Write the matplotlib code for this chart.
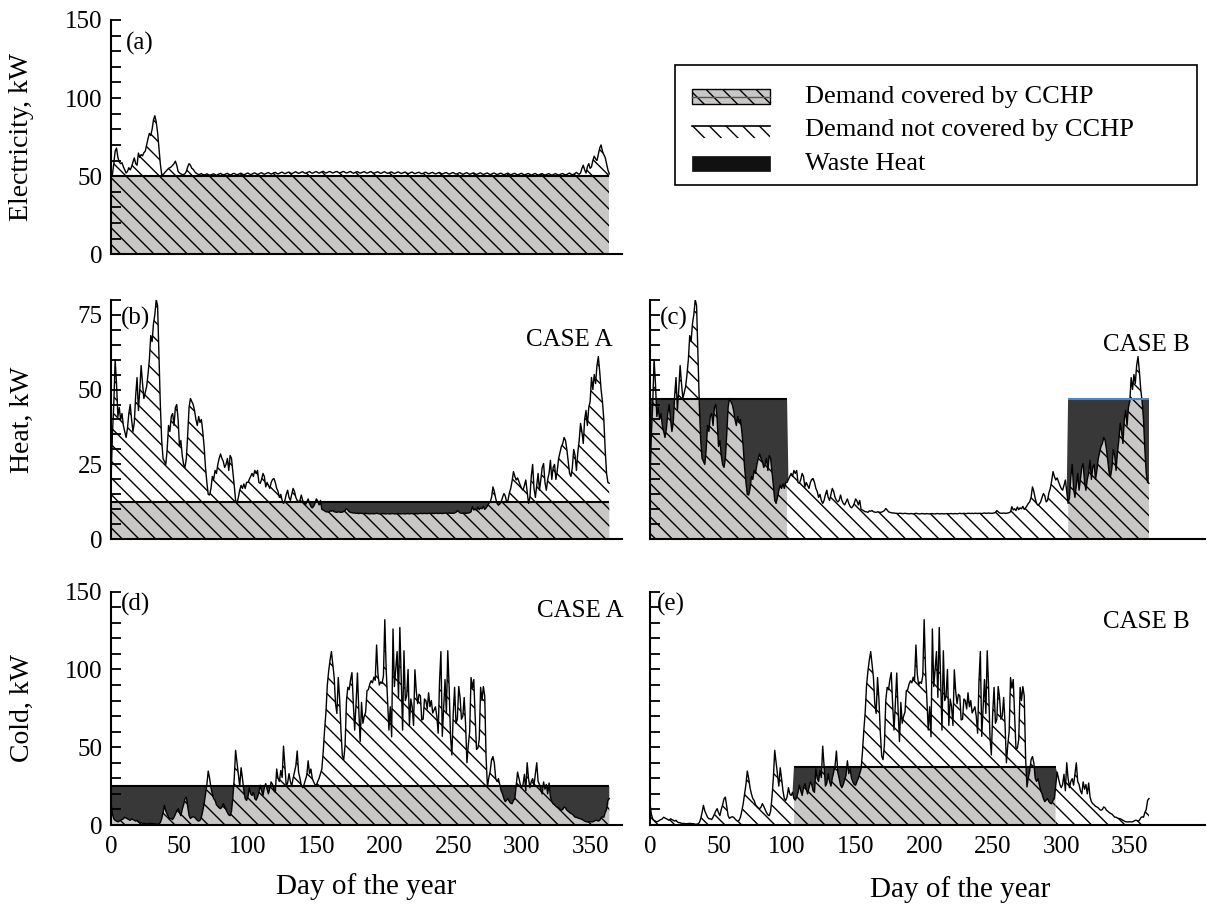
import numpy as np
import matplotlib
matplotlib.use('Agg')
import matplotlib.pyplot as plt
import matplotlib.patches as mpatches
from matplotlib.lines import Line2D

plt.rcParams['font.family'] = 'Liberation Serif'
plt.rcParams['hatch.color'] = 'black'
plt.rcParams['hatch.linewidth'] = 1.0

# daily demand, day 0..364
elec = [
    50, 51, 58, 66, 68, 62, 59, 58, 58.6, 56,
    54, 52, 53, 55.4, 54, 56, 59, 61.7, 58, 57,
    64.8, 62, 63.8, 63, 65, 66, 70, 74, 77.4, 76,
    80, 86, 88.7, 84.7, 78, 68, 58, 51, 51, 52,
    53, 54, 55, 55.4, 56, 57, 58, 59.6, 57, 53,
    52, 51.5, 51, 51, 51.5, 53, 56, 58, 57, 55,
    54.4, 53, 52, 51.5, 51, 51.2, 51.7, 51, 50.8, 51,
    51.5, 51, 50.6, 50.8, 51.2, 51.5, 51, 50.6, 51, 51.4,
    51.8, 51.2, 50.8, 51, 51.5, 51.8, 51.2, 50.9, 51, 51.6,
    51.8, 51.2, 50.8, 51.2, 51.6, 51.9, 51.3, 50.9, 51.2, 51.7,
    52.0, 51.4, 51.0, 51.3, 51.8, 52.1, 51.5, 51.1, 51.4, 51.9,
    52.2, 51.6, 51.2, 51.6, 52.0, 52.3, 51.7, 51.3, 51.7, 52.2,
    52.4, 51.8, 51.4, 51.8, 52.3, 52.6, 52.0, 51.6, 51.9, 52.4,
    52.6, 52.0, 51.6, 52.0, 52.5, 52.8, 52.2, 51.8, 52.1, 52.6,
    52.8, 52.2, 51.8, 52.2, 52.6, 52.9, 52.3, 51.9, 52.2, 52.7,
    52.9, 52.3, 51.9, 52.3, 52.8, 53.1, 52.4, 52.0, 52.3, 52.8,
    53.0, 52.4, 52.0, 52.4, 52.8, 53.0, 52.4, 52.0, 52.3, 52.8,
    53.0, 52.4, 52.0, 52.3, 52.7, 53.0, 52.3, 51.9, 52.2, 52.7,
    52.9, 52.3, 51.9, 52.2, 52.6, 52.9, 52.3, 51.9, 52.2, 52.7,
    52.9, 52.3, 51.9, 52.2, 52.6, 52.8, 52.2, 51.8, 52.1, 52.6,
    52.8, 52.2, 51.8, 52.1, 52.5, 52.7, 52.1, 51.7, 52.0, 52.5,
    52.7, 52.1, 51.7, 52.0, 52.4, 52.6, 52.0, 51.6, 51.9, 52.4,
    52.6, 52.0, 51.6, 51.9, 52.3, 52.5, 51.9, 51.5, 51.8, 52.3,
    52.5, 51.9, 51.5, 51.8, 52.2, 52.4, 51.8, 51.4, 51.7, 52.2,
    52.4, 51.8, 51.4, 51.7, 52.1, 52.3, 51.7, 51.3, 51.6, 52.1,
    52.3, 51.7, 51.3, 51.6, 52.0, 52.2, 51.6, 51.2, 51.5, 52.0,
    52.2, 51.6, 51.2, 51.5, 51.9, 52.1, 51.5, 51.1, 51.4, 51.9,
    52.1, 51.5, 51.1, 51.4, 51.8, 52.0, 51.4, 51.0, 51.3, 51.8,
    52.0, 51.4, 51.0, 51.3, 51.7, 51.9, 51.3, 50.9, 51.2, 51.7,
    51.9, 51.3, 50.9, 51.2, 51.6, 51.8, 51.2, 50.8, 51.1, 51.6,
    51.8, 51.2, 50.8, 51.1, 51.5, 51.7, 51.1, 50.7, 51.0, 51.5,
    51.7, 51.1, 50.7, 51.0, 51.4, 51.6, 51.0, 50.7, 51.0, 51.4,
    51.6, 51.0, 50.7, 51.0, 51.4, 51.6, 51.0, 50.7, 51.0, 51.5,
    51.7, 51.1, 50.8, 51.1, 51.6, 52.0, 51.3, 50.9, 51.2, 51.8,
    52.4, 51.6, 51.2, 52.0, 55.0, 57.0, 54.0, 52.0, 56.0, 58.0,
    55.0, 56.0, 60.0, 62.8, 61.0, 60.0, 64.0, 68.0, 70.0, 66.0,
    63.8, 62.0, 58.0, 54.0, 51.5,
]

heat = [
    20, 35, 45, 60, 52, 41, 44, 40, 42, 38,
    36, 34, 37, 42, 45, 40, 36, 39, 48, 54,
    43, 50, 58, 52, 47, 49, 51, 55, 60, 68,
    66, 72, 75, 80, 78, 62, 45, 33, 27, 26,
    25, 30, 38, 36, 41, 42, 38, 44, 45, 40,
    31, 33, 28, 25, 24, 27, 35, 44, 47, 46,
    45, 43, 40, 38, 41, 39, 40, 36, 31, 24,
    19, 15, 14.8, 17, 21, 20, 23, 22, 25, 27,
    28.5, 27, 26, 24, 25, 27, 23, 28, 27, 22.6,
    18, 13, 12, 14, 16.4, 18, 17, 18.5, 17, 19,
    19, 20, 21, 22, 21, 23, 22, 23, 19, 18.7,
    20, 22, 21, 17.5, 19, 18, 17, 19, 20, 20.3,
    19, 17, 16, 14, 15, 13, 12, 13, 15, 16.4,
    14, 13, 15, 17, 16, 14, 13, 12.5, 13, 14.8,
    13, 12, 11.5, 12.5, 13.5, 12, 11, 10.5, 11, 12,
    13.5, 12.8, 11.5, 13, 10, 9.8, 9.5, 9.2, 9.2, 9.0,
    9.5, 9.4, 9.6, 9.2, 9.1, 9.0, 9.2, 9.1, 9.0, 9.1,
    9.3, 9.6, 10.3, 9.8, 9.2, 9.0, 8.9, 8.8, 8.8, 8.7,
    8.7, 8.6, 8.7, 8.7, 8.6, 8.6, 8.7, 8.6, 8.6, 8.5,
    8.6, 8.6, 8.5, 8.6, 8.7, 8.6, 8.5, 8.5, 8.6, 8.6,
    8.5, 8.5, 8.6, 8.5, 8.5, 8.6, 8.6, 8.5, 8.5, 8.6,
    8.6, 8.5, 8.5, 8.6, 8.5, 8.5, 8.6, 8.6, 8.5, 8.6,
    8.6, 8.5, 8.6, 8.6, 8.5, 8.6, 8.7, 8.6, 8.6, 8.7,
    8.6, 8.6, 8.7, 8.7, 8.6, 8.7, 8.6, 8.7, 8.7, 8.6,
    8.7, 8.7, 8.6, 8.7, 8.8, 8.7, 8.7, 8.8, 8.7, 8.7,
    8.7, 8.8, 9.0, 9.6, 9.2, 8.8, 8.7, 8.7, 8.8, 8.7,
    8.7, 8.8, 8.9, 9.2, 10.9, 9.8, 10.2, 9.6, 10.8, 9.9,
    10.5, 10.2, 11.0, 10.0, 10.5, 11.2, 12.0, 12.5, 14.0, 17.5,
    16.0, 13.7, 12.0, 11.4, 11.8, 12.5, 14.0, 15.3, 14.5, 12.5,
    13.0, 15.5, 17.0, 19.5, 22.6, 21.0, 19.8, 20.5, 19.2, 18.0,
    17.0, 16.4, 18.0, 19.8, 16.0, 12.0, 14.0, 21.0, 25.0, 17.0,
    14.0, 18.0, 22.0, 16.4, 20.0, 24.0, 25.3, 19.0, 16.4, 20.0,
    22.0, 26.4, 20.0, 24.0, 25.0, 20.0, 23.0, 27.0, 29.0, 31.0,
    32.0, 34.0, 33.0, 30.0, 26.0, 22.0, 21.0, 24.0, 30.0, 28.0,
    23.0, 29.0, 33.0, 38.7, 36.0, 32.0, 40.0, 43.0, 38.0, 44.0,
    46.0, 54.0, 50.0, 55.0, 52.0, 58.0, 61.0, 56.0, 50.0, 46.0,
    40.0, 30.0, 22.0, 19.0, 18.7,
]

cold = [
    14, 7, 4, 3, 2.5, 2, 2.5, 3, 3.5, 4,
    5, 4.5, 4, 3.5, 3, 4, 3.5, 3, 2.5, 3,
    2, 1.5, 1.5, 1, 1, 1, 0.8, 0.8, 1, 1,
    1, 0.8, 0.8, 0.5, 0.5, 0.8, 1.5, 4, 8, 12.6,
    9, 7, 5, 4, 4, 3.5, 5, 7, 9, 10.5,
    8, 6, 10, 13, 16.8, 17.9, 12, 6, 4.2, 5,
    5.3, 5, 4, 3, 2.5, 3, 5, 9, 13.7, 20,
    26, 34.7, 30, 24, 20, 17, 15.8, 13, 12, 11,
    10.5, 11.5, 13.7, 12, 10, 8, 6.5, 6, 8.8, 17.9,
    30, 48, 40, 32.6, 25, 36.8, 30, 22, 17, 15.8,
    18, 24, 20, 19, 21, 17, 16, 17.9, 21, 25.6,
    22, 19, 24, 26.6, 23, 20, 24, 27.7, 26, 22,
    21, 36, 30, 28, 35, 30.5, 50.7, 38, 25, 27,
    33, 28, 25, 30, 34, 38, 47.6, 34, 30, 25.6,
    24, 26, 29, 32, 41.3, 33, 36, 30, 27.7, 26,
    25.6, 28, 30, 33, 36, 47, 61, 72.5, 90, 99,
    106, 111.5, 103, 95, 78, 71.7, 94.8, 81, 60, 44.4,
    42, 51.5, 80, 88.5, 87, 93.5, 98, 78, 61, 78,
    97.7, 73.8, 53.6, 78.8, 65.4, 70, 72.5, 86.4, 87, 90.6,
    92.7, 91.4, 95, 93, 115.7, 96.9, 90, 92, 91, 96,
    132, 100, 80, 61, 76, 56.7, 126, 89, 100, 111.5,
    82, 127, 95, 61, 112, 80, 83, 100, 64, 81,
    76, 64, 99.8, 86, 78, 84, 83, 67.5, 68, 81,
    80, 74.6, 85, 76, 80, 72, 74, 76, 70, 59,
    92.6, 111.5, 57, 76, 93.5, 71.7, 112, 88.5, 57, 45,
    71.7, 88.5, 65.4, 68, 89, 82, 68, 70, 82, 65,
    40, 51.5, 60, 94.8, 88, 93.5, 70, 48.6, 49.4, 55,
    88.5, 80, 89, 83, 43, 24.5, 30.5, 34.7, 42, 44,
    40, 30, 28, 29.8, 26, 22, 20, 17, 15, 16,
    17, 15, 14, 13.7, 15.8, 17, 25.6, 34, 30, 26,
    24, 26, 32.6, 22, 40, 30, 24, 28, 29.8, 25.6,
    33, 40, 28, 26, 22, 20, 27.7, 23, 26, 20,
    27, 18, 15, 13.7, 13, 12, 11.6, 11, 10, 9.5,
    10, 11.6, 11, 9.5, 8.8, 8, 7.4, 7, 6, 5,
    5, 4.5, 4.2, 4, 3.6, 3, 2.5, 2.1, 2, 2,
    2.1, 2, 2, 2.5, 3, 3, 2.5, 3, 4.6, 5.3,
    5, 8, 10, 15.8, 17,
]

# CCHP capacity (kW) and operating windows (first day, last day)
ELEC_CAP = 50
HEAT_CAP_A = 12.5
HEAT_CAP_B = 47
COLD_CAP_A = 25
COLD_CAP_B = 37
FULL_YEAR = [(0, 364)]
HEAT_B_RUN = [(0, 100), (305, 364)]
COLD_B_RUN = [(105, 296)]

days = np.arange(365)
GREY = '#c9c6c6'
DARK = '#383838'
HATCH = '\\\\'


def running(windows):
    on = np.zeros(len(days), dtype=bool)
    for a, b in windows:
        on[(days >= a) & (days <= b)] = True
    return on


def draw_panel(ax, demand, cap, windows, cap_colors=None):
    demand = np.asarray(demand, dtype=float)
    on = running(windows)
    # off-season days, widened by one day so the white area meets the grey one
    off = ~on
    off_wide = off | np.roll(off, 1) | np.roll(off, -1)
    off_wide[0] = off[0]
    off_wide[-1] = off[-1]

    covered = np.minimum(demand, cap)
    ax.fill_between(days, 0, covered, where=on, facecolor=GREY,
                    hatch=HATCH, edgecolor='black', linewidth=0)
    ax.fill_between(days, cap, demand, where=on & (demand > cap), interpolate=True,
                    facecolor='white', hatch=HATCH, edgecolor='black', linewidth=0)
    if off.any():
        ax.fill_between(days, 0, demand, where=off_wide, facecolor='white',
                        hatch=HATCH, edgecolor='black', linewidth=0)
    ax.plot(days, demand, color='black', lw=1.0)
    # waste heat: capacity left over when demand is below it
    ax.fill_between(days, demand, cap, where=on & (demand < cap), interpolate=True,
                    facecolor=DARK, edgecolor='none', linewidth=0)
    for i, (a, b) in enumerate(windows):
        c = 'black' if cap_colors is None else cap_colors[i]
        ax.hlines(cap, a, b, color=c, lw=1.5)


def style_axis(ax, ylim, step, show_x):
    ax.set_ylim(*ylim)
    ax.set_yticks(np.arange(ylim[0], ylim[1] + 0.1, step))
    for s in ['top', 'right']:
        ax.spines[s].set_visible(False)
    for s in ['left', 'bottom']:
        ax.spines[s].set_linewidth(1.5)
    ax.tick_params(axis='y', direction='in', length=7, width=1.3, pad=6, labelsize=18)
    ax.tick_params(axis='x', length=0, pad=8, labelsize=18)
    ax.set_xticks(np.arange(0, 351, 50))
    if not show_x:
        ax.set_xticklabels([])


fig = plt.figure(figsize=(12.07, 9.08), dpi=100)

ax_a = fig.add_axes([0.092, 0.720, 0.423, 0.258])
ax_b = fig.add_axes([0.092, 0.406, 0.423, 0.264])
ax_c = fig.add_axes([0.5385, 0.406, 0.460, 0.264])
ax_d = fig.add_axes([0.092, 0.0914, 0.423, 0.257])
ax_e = fig.add_axes([0.5385, 0.0914, 0.460, 0.257])

draw_panel(ax_a, elec, ELEC_CAP, FULL_YEAR)
draw_panel(ax_b, heat, HEAT_CAP_A, FULL_YEAR)
draw_panel(ax_c, heat, HEAT_CAP_B, HEAT_B_RUN, cap_colors=['black', '#4a86c8'])
draw_panel(ax_d, cold, COLD_CAP_A, FULL_YEAR)
draw_panel(ax_e, cold, COLD_CAP_B, COLD_B_RUN)

for ax in [ax_a, ax_b, ax_d]:
    ax.set_xlim(0, 373)
for ax in [ax_c, ax_e]:
    ax.set_xlim(0, 405)

style_axis(ax_a, (0, 150), 10, False)
ax_a.set_yticklabels([str(v) if v % 50 == 0 else '' for v in range(0, 151, 10)])

style_axis(ax_b, (0, 80), 5, False)
ax_b.set_yticklabels([str(v) if v % 25 == 0 else '' for v in range(0, 81, 5)])

style_axis(ax_c, (0, 80), 5, False)
ax_c.set_yticklabels([])

style_axis(ax_d, (0, 150), 10, True)
ax_d.set_yticklabels([str(v) if v % 50 == 0 else '' for v in range(0, 151, 10)])

style_axis(ax_e, (0, 150), 10, True)
ax_e.set_yticklabels([])

ax_a.set_ylabel('Electricity, kW', fontsize=20)
ax_b.set_ylabel('Heat, kW', fontsize=20)
ax_d.set_ylabel('Cold, kW', fontsize=20)
for ax in [ax_a, ax_b, ax_d]:
    ax.yaxis.set_label_coords(-0.15, 0.5)

ax_d.set_xlabel('Day of the year', fontsize=21)
ax_d.xaxis.set_label_coords(0.5, -0.205)
ax_e.set_xlabel('Day of the year', fontsize=21)
ax_e.xaxis.set_label_coords(0.558, -0.22)

# panel tags and case names
ax_a.text(0.03, 0.90, '(a)', transform=ax_a.transAxes, fontsize=18, va='center')
ax_b.text(0.02, 0.92, '(b)', transform=ax_b.transAxes, fontsize=18, va='center')
ax_c.text(0.018, 0.92, '(c)', transform=ax_c.transAxes, fontsize=18, va='center')
ax_d.text(0.02, 0.945, '(d)', transform=ax_d.transAxes, fontsize=18, va='center')
ax_e.text(0.012, 0.945, '(e)', transform=ax_e.transAxes, fontsize=18, va='center')
ax_b.text(0.982, 0.83, 'CASE A', transform=ax_b.transAxes, fontsize=18, ha='right', va='center')
ax_c.text(0.973, 0.81, 'CASE B', transform=ax_c.transAxes, fontsize=18, ha='right', va='center')
ax_d.text(1.004, 0.915, 'CASE A', transform=ax_d.transAxes, fontsize=18, ha='right', va='center')
ax_e.text(0.973, 0.87, 'CASE B', transform=ax_e.transAxes, fontsize=18, ha='right', va='center')

# legend box drawn in figure coordinates
fig.add_artist(mpatches.Rectangle((0.5592, 0.7963), 0.4325, 0.1321, transform=fig.transFigure,
                                  facecolor='white', edgecolor='black', lw=1.2))
px, pw, ph = 0.5733, 0.0646, 0.0165
rows = [0.8932, 0.8568, 0.8194]
fig.add_artist(mpatches.Rectangle((px, rows[0] - ph / 2), pw, ph, transform=fig.transFigure,
                                  facecolor=GREY, hatch=HATCH, edgecolor='black', lw=1.0))
fig.add_artist(Line2D([px, px + pw], [rows[0], rows[0]], transform=fig.transFigure,
                      color='#555555', lw=1.0))
fig.add_artist(mpatches.Rectangle((px, rows[1] - ph / 2), pw, ph * 0.8, transform=fig.transFigure,
                                  facecolor='white', hatch=HATCH, edgecolor='black', lw=0))
fig.add_artist(Line2D([px, px + pw], [rows[1] + ph * 0.3, rows[1] + ph * 0.3],
                      transform=fig.transFigure, color='black', lw=1.2))
fig.add_artist(mpatches.Rectangle((px, rows[2] - ph / 2), pw, ph, transform=fig.transFigure,
                                  facecolor='#111111', edgecolor='#111111', lw=0.5))
labels = ['Demand covered by CCHP', 'Demand not covered by CCHP', 'Waste Heat']
for y, lab in zip(rows, labels):
    fig.text(0.667, y, lab, fontsize=19, va='center')

plt.savefig('out.png', dpi=100)
